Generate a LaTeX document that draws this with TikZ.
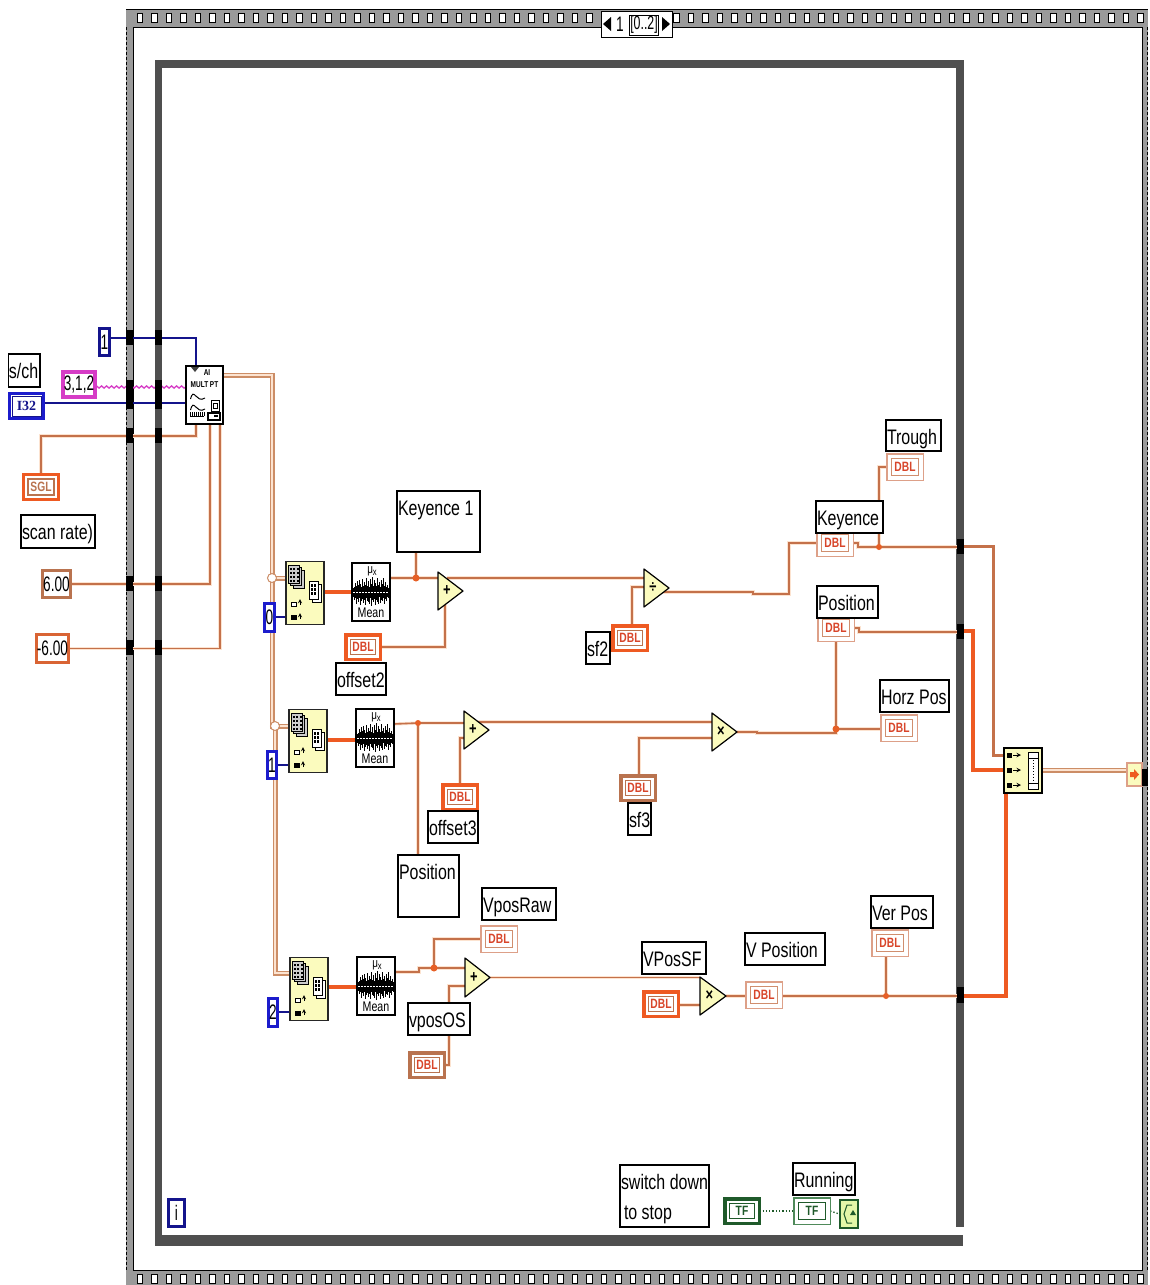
\documentclass[tikz,border=0pt]{standalone}
\usepackage{fontspec}
\setmainfont[FakeStretch=0.76]{Liberation Sans}
\newfontfamily\serfont{Liberation Serif}
\newfontfamily\numfont[FakeStretch=0.65]{Liberation Sans}
\usetikzlibrary{decorations.pathmorphing,calc}
\definecolor{wirec}{HTML}{C4714A}
\definecolor{halo}{HTML}{FCE3D0}
\definecolor{tanw}{HTML}{CC8D66}
\definecolor{brightor}{HTML}{EE5A22}
\definecolor{brownor}{HTML}{B9734F}
\definecolor{lighttan}{HTML}{DDA088}
\definecolor{dblred}{HTML}{D8452A}
\definecolor{navy}{HTML}{14148C}
\definecolor{vblue}{HTML}{1C1CCC}
\definecolor{framegray}{HTML}{4F4F4F}
\definecolor{bandgray}{HTML}{9A9A9A}
\definecolor{viyellow}{HTML}{FBFBBE}
\definecolor{dkgreen}{HTML}{1F5A2A}
\definecolor{ltgreen}{HTML}{4F8A5A}
\definecolor{stopfill}{HTML}{E4F7A8}
\definecolor{pinkw}{HTML}{D63CC6}
\pgfdeclarelayer{frame}
\pgfdeclarelayer{wires}
\pgfsetlayers{frame,wires,main}
\tikzset{
  vilbl/.style={draw=black,line width=1.2pt,fill=white,inner sep=0pt,outer sep=0pt},
  vibox/.style={fill=white,inner sep=0pt,outer sep=0pt},
  iconbox/.style={draw=black,line width=1.3pt,inner sep=0pt,outer sep=0pt},
  wire/.style={draw=halo,line width=3.2pt,postaction={draw=wirec,line width=1.6pt}},
  dwire/.style={draw=tanw,line width=1.5pt,double=halo,double distance=2pt},
  thickw/.style={draw=brightor,line width=3.2pt},
  thickb/.style={draw=wirec,line width=3pt},
  bluew/.style={draw=navy,line width=1.2pt},
  tunnel/.style={fill=black,inner sep=0pt,outer sep=0pt,minimum width=7pt},
  jdot/.style={circle,fill=brightor!85!brown,inner sep=0pt,minimum size=7pt},
  jhollow/.style={circle,draw=tanw,fill=white,line width=1pt,inner sep=0pt,minimum size=9pt},
  lblfont/.style={font=\fontsize{21}{30}\selectfont},
  numstyle/.style={font=\numfont\fontsize{21}{30}\selectfont},
  dblfont/.style={font=\fontsize{13.5}{14}\selectfont\bfseries},
  tinyfont/.style={font=\fontsize{8.5}{9}\selectfont\bfseries}
}
% label: name x1 y1 x2 y2 text
\newcommand\vilabel[6]{%
  \pgfmathsetmacro\vw{#4-#2}\pgfmathsetmacro\vh{#5-#3}%
  \pgfmathsetmacro\vcx{(#2+#4)/2}\pgfmathsetmacro\vcy{(#3+#5)/2}%
  \pgfmathsetmacro\vwt{#4-#2-2}%
  \node[vilbl,lblfont,minimum width=\vw pt,minimum height=\vh pt] (#1) at (\vcx,\vcy)
   {\parbox[c][\vh pt][t]{\vwt pt}{\leavevmode\rlap{\parbox[t]{300pt}{\baselineskip=30pt\rule{0pt}{24pt}#6}}}};}
% constant: [line width] name x1 y1 x2 y2 colour text
\newcommand\viconst[8][3.4]{%
  \pgfmathsetmacro\vw{#5-#3-#1}\pgfmathsetmacro\vh{#6-#4-#1}%
  \pgfmathsetmacro\vcx{(#3+#5)/2}\pgfmathsetmacro\vcy{(#4+#6)/2}%
  \node[vibox,numstyle,draw=#7,line width=#1pt,minimum width=\vw pt,minimum height=\vh pt] (#2) at (\vcx,\vcy) {#8};}
% typed terminal: name x1 y1 outer-colour outer-width inner-colour text-colour text
\newcommand\viterm[8]{%
  \pgfmathsetmacro\vw{38-#5}\pgfmathsetmacro\vh{28-#5}%
  \pgfmathsetmacro\vcx{#2+19}\pgfmathsetmacro\vcy{#3+14}%
  \node[vibox,dblfont,text=#7,draw=#4,line width=#5pt,minimum width=\vw pt,minimum height=\vh pt] (#1) at (\vcx,\vcy) {#8};
  \draw[#6,line width=1.4pt] ([shift={(4.5,-4.5)}]#1.south west) rectangle ([shift={(-4.5,4.5)}]#1.north east);}
\newcommand\dblC[4][brightor]{\viterm{#2}{#3}{#4}{#1}{3.5}{brownor}{dblred}{DBL}}
\newcommand\dblind[3]{\viterm{#1}{#2}{#3}{lighttan}{1.5}{wirec!80!white}{dblred}{DBL}}
% triangle function: name x1 y1 x2 y2 symbol
\newcommand\viamp[6]{%
  \pgfmathsetmacro\vcy{(#3+#5)/2}\pgfmathsetmacro\vsx{#2+0.36*(#4-#2)}%
  \fill[viyellow] (#2,#3) -- (#4,\vcy) -- (#2,#5) -- cycle;
  \draw[black,line width=1.2pt,line join=round] (#2,#3) -- (#4,\vcy) -- (#2,#5) -- cycle;
  \node[inner sep=0pt,font=\fontsize{17}{17}\selectfont\bfseries] (#1) at (\vsx,\vcy) {#6};
  \coordinate (#1-o) at (#4,\vcy);
  \coordinate (#1-w) at (#2,\vcy);}
% index array function: name x1 y1
\newcommand\viindex[3]{%
  \pgfmathsetmacro\vcx{#2+19}\pgfmathsetmacro\vcy{#3+32}%
  \node[iconbox,draw=black!85,fill=viyellow,minimum width=38pt,minimum height=63pt] (#1) at (\vcx,\vcy) {};
  \begin{scope}[shift={(#2,#3)}]
    \foreach \d in {5,2.5,0}{\draw[black,fill=bandgray!50,line width=1pt] (2+\d,4+\d) rectangle (13+\d,22+\d);}
    \foreach \gx in {3.5,7,10.5}{\foreach \gy in {6.5,10.5,14.5,18.5}{\fill[black] (\gx,\gy) rectangle ++(2.4,2.4);}}
    \foreach \d in {3,0}{\draw[black,fill=white,line width=1pt] (23+\d,20+\d) rectangle (32+\d,38+\d);}
    \foreach \gx in {24.5,28}{\foreach \gy in {23,27,31}{\fill[black] (\gx,\gy) rectangle ++(2.4,2.6);}}
    \draw[black,fill=white,line width=.8pt] (5,41) rectangle (10,45);
    \fill[black] (5,54) rectangle (11,59);
    \draw[black,line width=.9pt,-stealth] (14,44) -- (14,38);
    \draw[black,line width=.9pt,-stealth] (14,58) -- (14,52);
  \end{scope}}
% mean function: name x1 y1
\newcommand\vimean[3]{%
  \pgfmathsetmacro\vcx{#2+19}\pgfmathsetmacro\vcy{#3+29}%
  \node[iconbox,fill=white,minimum width=38pt,minimum height=58pt] (#1) at (\vcx,\vcy) {};
  \begin{scope}[shift={(#2,#3)}]
    \node[inner sep=0pt,font=\fontsize{13}{13}\selectfont] at (20,8.5) {μ\raisebox{-2pt}{\fontsize{10}{10}\selectfont x}};
    \foreach \i/\a/\b in {1/4/5,2/5/8,3/9/6,4/6/12,5/11/7,6/7/10,7/12/6,8/8/13,9/5/9,10/13/7,11/6/11,12/10/8,13/7/13,14/14/6,15/6/9,16/11/10,17/5/12,18/13/6,19/8/14,20/15/8,21/6/10,22/12/7,23/9/13,24/6/8,25/14/10,26/7/12,27/10/5,28/5/11,29/12/8,30/8/9,31/14/6,32/6/12,33/10/7,34/5/9,35/7/5,36/4/6}
      {\draw[black,line width=.9pt] (\i+.5,29-\a) -- (\i+.5,29+\b);}
    \draw[white,line width=1pt,dash pattern=on 1.5pt off 1.5pt] (1,29) -- (37,29);
    \node[inner sep=0pt,font=\fontsize{14}{14}\selectfont] at (19,50) {Mean};
  \end{scope}}
\begin{document}
\begin{tikzpicture}[x=1pt,y=-1pt]
\useasboundingbox (0,0) rectangle (1149,1285);
% ---- frames
\begin{pgfonlayer}{frame}
  \fill[white] (0,0) rectangle (1149,1285);
  \fill[bandgray] (126,9) rectangle (1148,27);
  \fill[bandgray] (126,1270) rectangle (1148,1285);
  \fill[bandgray] (126,9) rectangle (133,1285);
  \fill[bandgray] (1142,9) rectangle (1148,1285);
  \draw[black,line width=.9pt] (126,9) -- (1148,9);
  \draw[black,line width=1pt] (133,1270) -- (133,27) -- (1142,27) -- (1142,1270) -- cycle;
  \draw[black,line width=1.2pt,dash pattern=on 3pt off 2pt] (126.5,27) -- (126.5,1270);
  \draw[black,line width=1.2pt,dash pattern=on 3pt off 2pt] (1147.5,27) -- (1147.5,1270);
  \foreach \i in {0,...,31}{\draw[black,fill=white,line width=1pt] (137+14.5*\i,13.5) rectangle ++(5.5,8.5);}
  \foreach \i in {37,...,69}{\draw[black,fill=white,line width=1pt] (137+14.5*\i,13.5) rectangle ++(5.5,8.5);}
  \foreach \i in {0,...,69}{\draw[black,fill=white,line width=1pt] (137+14.5*\i,1274.5) rectangle ++(5.5,8.5);}
  \draw[framegray,line width=7.5pt] (158.7,1240) -- (158.7,64) -- (960,64) -- (960,1227);
  \fill[framegray] (155,1235) rectangle (963,1246);
\end{pgfonlayer}
% ---- selector
\node[vilbl,line width=1pt,minimum width=71pt,minimum height=26pt] (sel) at (636.5,24) {};
\fill[black] (603,24) -- (611,17) -- (611,31) -- cycle;
\fill[black] (670,24) -- (662,17) -- (662,31) -- cycle;
\node[inner sep=0pt,font=\numfont\fontsize{21}{22}\selectfont] (selnum) at (620,24.5) {1};
\node[draw=black,line width=.7pt,inner sep=0pt,minimum width=29pt,minimum height=20pt,font=\numfont\fontsize{19}{20}\selectfont] (selrng) at (644,25) {[0..2]};
% ---- left-side terminals
\viconst{c1}{98}{327}{111}{357}{navy}{1}
\vilabel{sch}{8}{354}{40}{387}{s/ch}
\fill[white] (6,353) rectangle (8,388);
\viconst[4]{c312}{61}{370}{97}{399}{pinkw}{3,1,2}
\viconst{ci32}{8}{392}{45}{420}{vblue}{}
\draw[navy,line width=1pt] (12,396) rectangle (41,416);
\node[inner sep=0pt,text=navy,font=\fontsize{14}{14}\selectfont\bfseries\serfont] (ti32) at (26.5,406) {I32};
\viterm{sgl}{22}{473}{brightor}{3}{brownor}{brownor}{SGL}
\vilabel{scan}{21}{515}{95}{548}{scan rate)}
\viconst{c6}{41}{569}{72}{599}{brownor}{6.00}
\viconst{cm6}{35}{633}{70}{664}{brightor!60!brownor}{-6.00}
% ---- AI node
\node[iconbox,fill=white,minimum width=37pt,minimum height=58pt] (ai) at (204.5,395) {};
\fill[black!75] (191,367) -- (199,367) -- (195,372) -- cycle;
\node[inner sep=0pt,tinyfont] (aitxt1) at (207,373) {AI};
\node[inner sep=0pt,tinyfont] (aitxt2) at (204.5,385) {MULT PT};
\draw[black,line width=1pt] (190.5,399) .. controls (194,386) and (196,404) .. (205,398);
\draw[black,line width=1pt] (190.5,410) .. controls (194,397) and (196,415) .. (205,409);
\draw[black,line width=.9pt] (190,416) -- (204,416);
\foreach \i in {0,2,...,14}{\draw[black,line width=.7pt] (190+\i,412) -- (190+\i,416);}
\draw[black,line width=1pt] (211,400) rectangle (219,411);
\draw[black,line width=.8pt] (213,403) rectangle (217,408);
\draw[black,line width=1.2pt] (208,413) rectangle (220,420);
\fill[black] (214,415) rectangle (218,417);
% ---- sequence body constants
\viconst{c0}{263}{602}{276}{633}{vblue}{0}
\viconst{c1b}{266}{750}{278}{780}{vblue}{1}
\viconst{c2}{267}{997}{279}{1028}{vblue}{2}
\viconst{ci}{167}{1198}{186}{1228}{navy}{i}
% ---- index + mean
\viindex{a1}{286}{561}
\viindex{a2}{289}{709}
\viindex{a3}{290}{957}
\vimean{m1}{352}{563}
\vimean{m2}{356}{709}
\vimean{m3}{357}{957}
% ---- triangles
\viamp{p1}{438}{572}{463}{610}{+}
\viamp{p2}{464}{711}{489}{749}{+}
\viamp{p3}{465}{958}{490}{997}{+}
\viamp{d1}{644}{569}{669}{607}{÷}
\viamp{x1}{712}{713}{737}{751}{×}
\viamp{x2}{700}{977}{726}{1015}{×}
% ---- terminals
\dblC{oD2}{344}{633}
\vilabel{off2}{336}{663}{386}{695}{offset2}
\vilabel{key1}{397}{491}{480}{552}{Keyence 1}
\dblC{sf2D}{611}{624}
\vilabel{sf2}{586}{632}{610}{664}{sf2}
\dblC{oD3}{441}{783}
\vilabel{off3}{428}{811}{478}{843}{offset3}
\dblC[brownor]{sf3D}{619}{774}
\vilabel{sf3}{628}{803}{651}{835}{sf3}
\vilabel{posL}{398}{855}{459}{917}{Position}
\dblind{rawD}{480}{925}
\vilabel{rawL}{482}{888}{556}{920}{VposRaw}
\dblC[brownor]{osD}{408}{1051}
\vilabel{osL}{408}{1003}{470}{1035}{vposOS}
\dblC{sfD}{642}{990}
\vilabel{sfL}{642}{942}{706}{974}{VPosSF}
\dblind{vD}{745}{981}
\vilabel{vL}{745}{933}{825}{965}{V Position}
\dblind{verD}{871}{929}
\vilabel{verL}{871}{896}{933}{928}{Ver Pos}
\dblind{tD}{886}{453}
\vilabel{tL}{886}{420}{941}{451}{Trough}
\dblind{kD}{816}{529}
\vilabel{kL}{816}{501}{883}{533}{Keyence}
\dblind{pD}{817}{614}
\vilabel{pL}{817}{586}{878}{618}{Position}
\dblind{hD}{880}{714}
\vilabel{hL}{880}{680}{949}{712}{Horz Pos}
% ---- bottom row
\vilabel{stopL}{620}{1165}{709}{1227}{switch down\\ \hspace*{3pt}to stop}
\viterm{tf1}{723}{1197}{dkgreen}{3.5}{dkgreen}{dkgreen}{TF}
\viterm{tf2}{793}{1197}{ltgreen}{1.5}{dkgreen}{dkgreen}{TF}
\vilabel{runL}{793}{1163}{855}{1195}{Running}
\node[draw=dkgreen,fill=stopfill,line width=1.2pt,inner sep=0pt,minimum width=18pt,minimum height=28pt] (stopN) at (849,1214) {};
\draw[dkgreen,line width=1pt] (852,1205) -- (847,1205) -- (844,1214) -- (847,1223) -- (852,1223);
\fill[dkgreen] (853,1210) -- (850,1215) -- (856,1215) -- cycle;
% ---- bundle
\node[iconbox,fill=viyellow,minimum width=38pt,minimum height=45pt] (bun) at (1023,770.5) {};
\foreach \yy in {755,770,785}{
  \fill[black] (1007,\yy-2.5) rectangle (1012,\yy+2.5);
  \draw[black,line width=1pt,-stealth] (1013,\yy) -- (1021,\yy);
}
\draw[black,fill=white,line width=1pt] (1028,752) rectangle (1038,789);
\draw[black,line width=1pt] (1028,758) -- (1038,758) (1028,783) -- (1038,783);
\draw[black,line width=.8pt,dotted] (1033,760) -- (1033,781);
% ---- output terminal
\node[draw=lighttan,fill=viyellow,line width=1.2pt,inner sep=0pt,minimum width=15pt,minimum height=23pt] (outT) at (1134.5,774.5) {};
\fill[brightor] (1130,772) rectangle (1134,777) (1134,769) -- (1139,774.5) -- (1134,780) -- cycle;
\node[tunnel,minimum width=6pt,minimum height=17pt] (outB) at (1145,777.5) {};
% ---- tunnels
\foreach \nm/\yy/\hh in {a/337.5/15,b/394.5/29,c/435.5/15,d/583/15,e/647.5/15}{
  \node[tunnel,minimum height=\hh pt] (tl\nm) at (129.5,\yy) {};
  \node[tunnel,minimum height=\hh pt] (tr\nm) at (158.5,\yy) {};
}
\node[tunnel,minimum height=15pt] (tk) at (960,546) {};
\node[tunnel,minimum height=15pt] (tp) at (960,631) {};
\node[tunnel,minimum height=16pt] (tv) at (960,995) {};
% ---- junctions
\node[jhollow] (ja) at (272,578) {};
\node[jhollow] (jb) at (275,726) {};
\node[jdot] (j1) at (416,578) {};
\node[jdot,minimum size=6pt] (j2) at (418,723) {};
\node[jdot] (j3) at (434,968) {};
\node[jdot,minimum size=6pt] (jk) at (879,547) {};
\node[jdot] (jh) at (836,729) {};
\node[jdot,minimum size=6pt] (jv) at (886,996) {};
% ---- wires
\begin{pgfonlayer}{wires}
  \draw[bluew] (c1.east |- 0,338) -| (ai.north -| 196,0);
  \draw[draw=pinkw,line width=1.3pt,decorate,decoration={snake,amplitude=1.1pt,segment length=5pt}] (c312.east |- 0,387) -- (ai.west |- 0,387);
  \draw[bluew] (ci32.east |- 0,403) -- (ai.west |- 0,403);
  \draw[wire] (sgl.north) -- (sgl.north |- 0,436) -| (ai.south -| 196,0);
  \draw[wire] (c6.east) -| (ai.south -| 210,0);
  \draw[wire] (cm6.east) -| (ai.south -| 220,0);
  \draw[dwire] (ai.east |- 0,375) -| (ja.center) -- (ja.center |- jb.center) -- (jb.center) |- (a3.west |- 0,973);
  \draw[dwire] (ja.center) -- (a1.west |- ja.center);
  \draw[dwire] (jb.center) -- (a2.west |- jb.center);
  \draw[bluew] (c0.east |- 0,617) -- (a1.west |- 0,617);
  \draw[bluew] (c1b.east |- 0,765) -- (a2.west |- 0,765);
  \draw[bluew] (c2.east |- 0,1012) -- (a3.west |- 0,1012);
  \draw[thickw] (a1.east |- 0,592) -- (m1.west |- 0,592);
  \draw[thickw] (a2.east |- 0,740) -- (m2.west |- 0,740);
  \draw[thickw] (a3.east |- 0,987) -- (m3.west |- 0,987);
  % top branch
  \draw[wire] (m1.east |- j1.center) -- (j1.center) -- (p1-w |- j1.center);
  \draw[wire] (j1.center) -- (key1.south -| j1.center);
  \draw[wire] (oD2.east) -| (445,600);
  \draw[wire] (p1 |- j1.center) -- (d1-w |- j1.center);
  \draw[wire] (sf2D.north -| 632,0) |- (d1-w |- 0,587);
  \draw[wire] (d1 |- 0,592) -- (753,592) -- (753,594) -- (789,594) -- (789,543) -- (kD.west |- 0,543);
  \draw[wire] (kD.east |- 0,543) -- (858,543) -- (858,547) -- (jk.center) -- (tk.west |- jk.center);
  \draw[wire] (jk.center) |- (tD.west);
  \draw[thickb] (tk.east |- 0,546) -| (993,650) |- (bun.west |- 0,755);
  % middle branch
  \draw[wire] (m2.east |- 0,724) -- (j2.center) -- (p2-w |- j2.center);
  \draw[wire] (j2.center) -- (posL.north -| j2.center);
  \draw[wire] (oD3.north -| 460,0) -- (460,738) -- (p2-w |- 0,738);
  \draw[wire] (p2 |- 0,722) -- (x1-w |- 0,722);
  \draw[wire] (sf3D.north -| 639,0) |- (x1-w |- 0,738);
  \draw[wire] (x1-o |- 0,732) -- (757,732) -- (757,733) -- (836,733) -- (jh.center);
  \draw[wire] (jh.center) -- (hD.west |- jh.center);
  \draw[wire] (jh.center) -- (pD.south -| jh.center);
  \draw[wire] (pD.east |- 0,628) -- (859,628) -- (859,632) -- (tp.west |- 0,632);
  \draw[thickw] (tp.east |- 0,631) -| (973,700) |- (bun.west |- 0,770);
  % lower branch
  \draw[wire] (m3.east |- 0,972) -- (419,972) -- (419,968) -- (j3.center) -- (p3-w |- j3.center);
  \draw[wire] (j3.center) |- (rawD.west);
  \draw[wire] (osD.east) -- (449,1065) -- (449,986) -- (p3-w |- 0,986);
  \draw[wire] (p3-o) -- (x2-w |- p3-o);
  \draw[wire] (sfD.east |- 0,1005) -- (x2-w |- 0,1005);
  \draw[wire] (x2-o) -- (vD.west |- x2-o);
  \draw[wire] (vD.east |- 0,996) -- (jv.center) -- (tv.west |- jv.center);
  \draw[wire] (jv.center) -- (verD.south -| jv.center);
  \draw[thickw] (tv.east |- 0,996) -| (bun.south -| 1006,0);
  \draw[dwire] (bun.east |- 0,770) -- (outT.west |- 0,770);
  \draw[dkgreen,line width=1.3pt,dotted] (tf1.east) -- (tf2.west);
  \draw[dkgreen,line width=1.3pt,dotted] (tf2.east) -- (stopN.west);
\end{pgfonlayer}
\end{tikzpicture}
\end{document}
